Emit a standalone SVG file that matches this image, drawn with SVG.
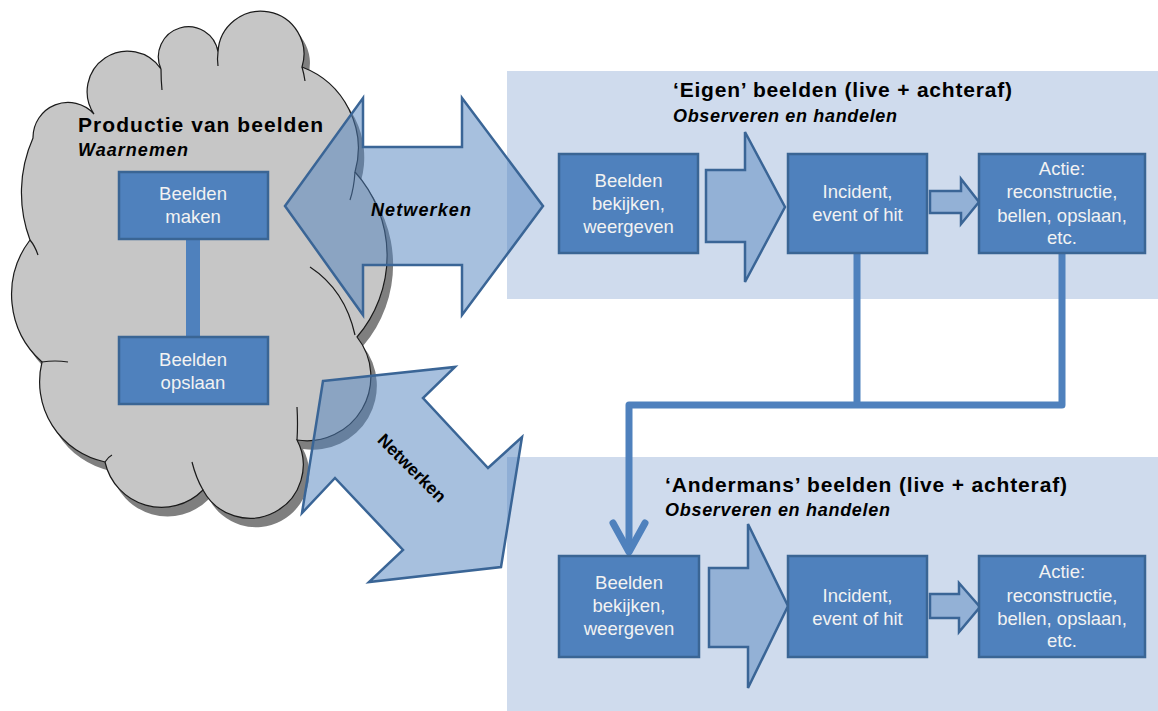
<svg xmlns="http://www.w3.org/2000/svg" width="1158" height="711" viewBox="0 0 1158 711">
<defs>
<style>
.panel{fill:#CFDBED}
.box{fill:#4F81BD;stroke:#3A6594;stroke-width:2.5}
.bt{font-family:"Liberation Sans",Arial,sans-serif;font-size:18.5px;fill:#F2F2F2;text-anchor:middle}
.title{font-family:"Liberation Sans",Arial,sans-serif;font-size:21px;font-weight:bold;fill:#000}
.sub{font-family:"Liberation Sans",Arial,sans-serif;font-size:18px;font-weight:bold;font-style:italic;fill:#000}
.big{fill:#4F81BD;fill-opacity:0.5;stroke:#3A6596;stroke-width:2.5;stroke-linejoin:miter}
.small{fill:#93B1D6;stroke:#3A6596;stroke-width:2.5}
.conn{fill:none;stroke:#4F81BD;stroke-width:7;stroke-linejoin:round}
.cloud{fill:#C6C6C6;stroke:#1A1A1A;stroke-width:1.2}
.inner{fill:none;stroke:#1A1A1A;stroke-width:1.2}
</style>
<path id="cloudShape" d="M33,138 A35,35 0 0 1 94,114 A40,40 0 0 1 161,69 A30,30 0 1 1 218,52 A43,43 0 1 1 302,67 A87,87 0 0 1 355,172 A125,125 0 0 1 357,337 A64,64 0 0 1 297,440 A52,52 0 0 1 203,490 A58,58 0 0 1 105,462 A82,82 0 0 1 42,362 A90,90 0 0 1 30,240 A135,135 0 0 1 33,138 Z"/>
</defs>

<g id="panel-eigen"><rect class="panel" x="507" y="71" width="651" height="228"/></g>
<g id="panel-andermans"><rect class="panel" x="507" y="457" width="651" height="254"/></g>

<g id="cloud-productie">
<use href="#cloudShape" transform="translate(6,9)" fill="#7F7F7F"/>
<use href="#cloudShape" class="cloud"/>
<path class="inner" d="M161,69 Q161,80 162,90"/>
<path class="inner" d="M218,52 Q217,59 218,66"/>
<path class="inner" d="M302,67 Q304,74 305,81"/>
<path class="inner" d="M355,172 Q354,188 350,200"/>
<path class="inner" d="M310,267 Q345,290 355,335"/>
<path class="inner" d="M297,407 Q298,425 297,440"/>
<path class="inner" d="M192,462 Q196,478 203,490"/>
<path class="inner" d="M105,462 Q108,457 112,455"/>
<path class="inner" d="M42,362 Q55,360 68,362"/>
<path class="inner" d="M30,240 Q35,246 38,255"/>
<text class="title" x="78" y="132" font-size="22" textLength="245">Productie van beelden</text>
<text class="sub" x="78" y="156" textLength="110">Waarnemen</text>
</g>

<g id="arrow-netwerken-top">
<polygon class="big" points="285,206 363,98 363,147 462,147 462,98 543,206 462,315 462,265 363,265 363,315"/>
<text class="sub" x="371" y="216" font-size="16" textLength="100">Netwerken</text>
</g>

<g id="arrow-netwerken-bottom">
<polygon class="big" points="323,381 455,367 423,398 488,468 522,437 501,567 369,582 403,550 335,478 302,513"/>
<text transform="translate(412,468) rotate(45)" x="0" y="6" font-family="Liberation Sans, Arial, sans-serif" font-size="17.5" font-weight="bold" text-anchor="middle">Netwerken</text>
</g>

<g id="connectors">
<line x1="193" y1="239" x2="193" y2="337" stroke="#4F81BD" stroke-width="14"/>
<path class="conn" d="M857,254 V405"/>
<path class="conn" d="M1062,254 V405 H629 V550"/>
<path class="conn" d="M613,523 L629,552 L645,523" stroke-linecap="round" stroke-linejoin="miter"/>
</g>

<g id="box-beelden-maken">
<rect class="box" x="119" y="172" width="149" height="67"/>
<text class="bt" x="193" y="200">Beelden</text>
<text class="bt" x="193" y="223">maken</text>
</g>
<g id="box-beelden-opslaan">
<rect class="box" x="119" y="337" width="149" height="67"/>
<text class="bt" x="193" y="366">Beelden</text>
<text class="bt" x="193" y="389">opslaan</text>
</g>

<g id="title-eigen">
<text class="title" x="673" y="97" textLength="339">‘Eigen’ beelden (live + achteraf)</text>
<text class="sub" x="673" y="122" textLength="224">Observeren en handelen</text>
</g>

<g id="box-bekijken-1">
<rect class="box" x="559" y="154" width="139" height="99"/>
<text class="bt" x="628.5" y="187">Beelden</text>
<text class="bt" x="628.5" y="210">bekijken,</text>
<text class="bt" x="628.5" y="233">weergeven</text>
</g>
<g id="arrow-1a"><polygon class="small" points="706,170 745,170 745,132 785,207 745,282 745,242 706,242"/></g>
<g id="box-incident-1">
<rect class="box" x="788" y="154" width="139" height="99"/>
<text class="bt" x="857.5" y="198">Incident,</text>
<text class="bt" x="857.5" y="221">event of hit</text>
</g>
<g id="arrow-1b"><polygon class="small" points="930,191 961,191 961,179 979,202 961,224 961,213 930,213"/></g>
<g id="box-actie-1">
<rect class="box" x="979" y="154" width="166" height="99"/>
<text class="bt" x="1062" y="175">Actie:</text>
<text class="bt" x="1062" y="198">reconstructie,</text>
<text class="bt" x="1062" y="222">bellen, opslaan,</text>
<text class="bt" x="1062" y="244">etc.</text>
</g>

<g id="title-andermans">
<text class="title" x="665" y="492" textLength="402">‘Andermans’ beelden (live + achteraf)</text>
<text class="sub" x="665" y="516" textLength="225">Observeren en handelen</text>
</g>

<g id="box-bekijken-2">
<rect class="box" x="559" y="556" width="140" height="101"/>
<text class="bt" x="629" y="589">Beelden</text>
<text class="bt" x="629" y="612">bekijken,</text>
<text class="bt" x="629" y="635">weergeven</text>
</g>
<g id="arrow-2a"><polygon class="small" points="709,568 748,568 748,524 788,606 748,688 748,647 709,647"/></g>
<g id="box-incident-2">
<rect class="box" x="788" y="556" width="139" height="101"/>
<text class="bt" x="857.5" y="602">Incident,</text>
<text class="bt" x="857.5" y="625">event of hit</text>
</g>
<g id="arrow-2b"><polygon class="small" points="930,594 959,594 959,583 980,607 959,632 959,618 930,618"/></g>
<g id="box-actie-2">
<rect class="box" x="979" y="556" width="166" height="101"/>
<text class="bt" x="1062" y="578">Actie:</text>
<text class="bt" x="1062" y="602">reconstructie,</text>
<text class="bt" x="1062" y="625">bellen, opslaan,</text>
<text class="bt" x="1062" y="647">etc.</text>
</g>
</svg>
